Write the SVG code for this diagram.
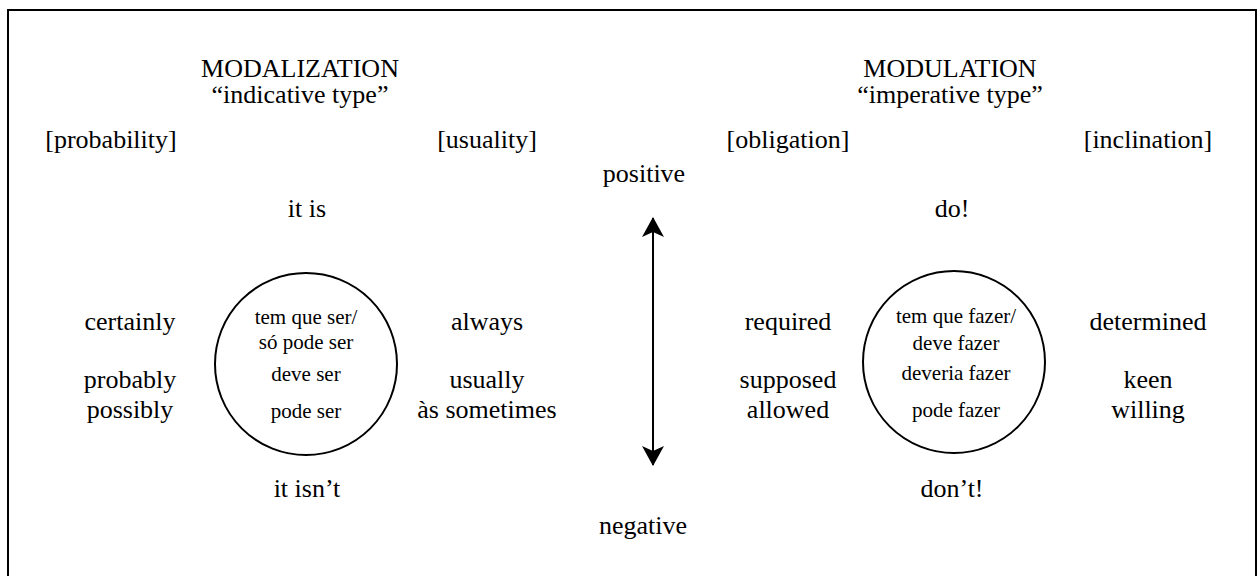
<svg xmlns="http://www.w3.org/2000/svg" width="1260" height="576" viewBox="0 0 1260 576">
<style>
text{font-family:"Liberation Serif","Times New Roman",serif;fill:#000;text-anchor:middle}
.t{font-size:26px}
.s{font-size:21px}
.c{fill:none;stroke:#000;stroke-width:2}
</style>
<defs>
<marker id="ah" viewBox="0 0 20 22" refX="19" refY="11" markerWidth="20" markerHeight="22" markerUnits="userSpaceOnUse" orient="auto-start-reverse">
<path d="M20,11 L0,0 L5,11 L0,22 Z" fill="#000"/>
</marker>
</defs>
<rect x="8" y="10" width="1248" height="580" fill="#fff" stroke="#000" stroke-width="2"/>
<g id="modalization">
<text class="t" x="300" y="77">MODALIZATION</text>
<text class="t" x="300" y="103">“indicative type”</text>
</g>
<g id="modulation">
<text class="t" x="950" y="77">MODULATION</text>
<text class="t" x="950" y="103">“imperative type”</text>
</g>
<g id="probability">
<text class="t" x="111" y="148">[probability]</text>
<text class="t" x="130" y="330">certainly</text>
<text class="t" x="130" y="388">probably</text>
<text class="t" x="130" y="418">possibly</text>
</g>
<g id="usuality">
<text class="t" x="487" y="148">[usuality]</text>
<text class="t" x="487" y="330">always</text>
<text class="t" x="487" y="388">usually</text>
<text class="t" x="487" y="418">às sometimes</text>
</g>
<g id="obligation">
<text class="t" x="788" y="148">[obligation]</text>
<text class="t" x="788" y="330">required</text>
<text class="t" x="788" y="388">supposed</text>
<text class="t" x="788" y="418">allowed</text>
</g>
<g id="inclination">
<text class="t" x="1148" y="148">[inclination]</text>
<text class="t" x="1148" y="330">determined</text>
<text class="t" x="1148" y="388">keen</text>
<text class="t" x="1148" y="418">willing</text>
</g>
<g id="polarity-left">
<text class="t" x="307" y="217">it is</text>
<text class="t" x="307" y="497">it isn’t</text>
</g>
<g id="polarity-right">
<text class="t" x="952" y="217">do!</text>
<text class="t" x="952" y="497">don’t!</text>
</g>
<g id="circle-left">
<circle class="c" cx="306" cy="364" r="91"/>
<text class="s" x="306" y="324">tem que ser/</text>
<text class="s" x="306" y="349">só pode ser</text>
<text class="s" x="306" y="381">deve ser</text>
<text class="s" x="306" y="418">pode ser</text>
</g>
<g id="circle-right">
<circle class="c" cx="954" cy="362" r="91"/>
<text class="s" x="956" y="323">tem que fazer/</text>
<text class="s" x="956" y="350">deve fazer</text>
<text class="s" x="956" y="380">deveria fazer</text>
<text class="s" x="956" y="417">pode fazer</text>
</g>
<g id="axis-labels">
<text class="t" x="644" y="182">positive</text>
<text class="t" x="643" y="534">negative</text>
</g>
<g id="connectors">
<line x1="653" y1="218" x2="653" y2="465" stroke="#000" stroke-width="2" marker-start="url(#ah)" marker-end="url(#ah)"/>
</g>
</svg>
